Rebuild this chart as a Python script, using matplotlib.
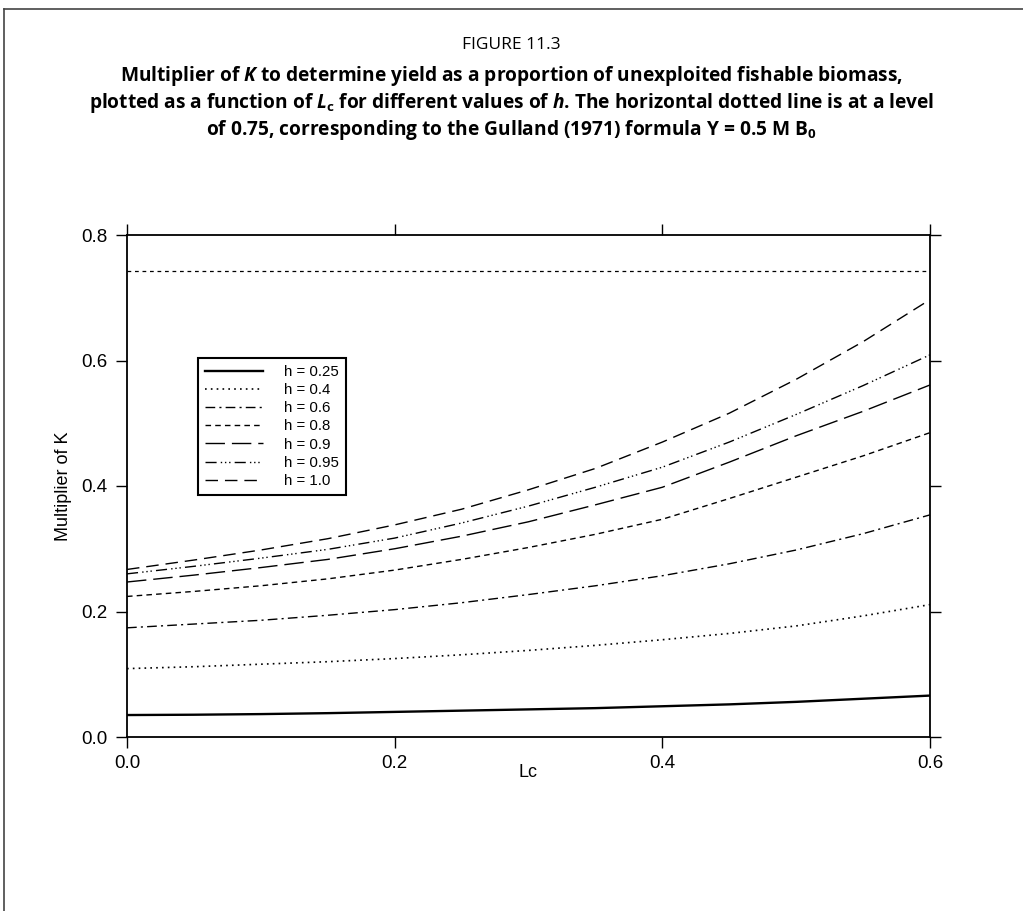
import matplotlib
matplotlib.use("Agg")
import matplotlib.pyplot as plt
from matplotlib.lines import Line2D

plt.rcParams['mathtext.fontset'] = 'custom'
plt.rcParams['mathtext.rm'] = 'Open Sans:bold'
plt.rcParams['mathtext.it'] = 'Open Sans:italic:bold'
plt.rcParams['mathtext.bf'] = 'Open Sans:bold'

# ---- data ----
lc = [0.00, 0.05, 0.10, 0.15, 0.20, 0.25, 0.30, 0.35, 0.40, 0.45, 0.50, 0.55, 0.60]
h_labels = ["h = 0.25", "h = 0.4", "h = 0.6", "h = 0.8", "h = 0.9", "h = 0.95", "h = 1.0"]
y_h025 = [0.035, 0.0355, 0.0365, 0.038, 0.040, 0.042, 0.044, 0.046, 0.049, 0.052, 0.056, 0.061, 0.066]
y_h04 = [0.109, 0.112, 0.116, 0.120, 0.125, 0.131, 0.138, 0.146, 0.155, 0.165, 0.177, 0.193, 0.211]
y_h06 = [0.174, 0.180, 0.186, 0.194, 0.203, 0.214, 0.227, 0.241, 0.257, 0.276, 0.298, 0.324, 0.354]
y_h08 = [0.224, 0.232, 0.241, 0.252, 0.266, 0.283, 0.302, 0.323, 0.347, 0.380, 0.414, 0.448, 0.485]
y_h09 = [0.247, 0.258, 0.270, 0.283, 0.300, 0.320, 0.343, 0.370, 0.398, 0.438, 0.480, 0.519, 0.561]
y_h095 = [0.260, 0.272, 0.285, 0.299, 0.317, 0.341, 0.368, 0.398, 0.430, 0.470, 0.514, 0.560, 0.609]
y_h10 = [0.267, 0.282, 0.298, 0.316, 0.338, 0.363, 0.394, 0.428, 0.470, 0.516, 0.570, 0.630, 0.697]
gulland_level = 0.743
xticks = [0.0, 0.2, 0.4, 0.6]
yticks = [0.0, 0.2, 0.4, 0.6, 0.8]

series = [y_h025, y_h04, y_h06, y_h08, y_h09, y_h095, y_h10]
styles = [
    dict(linestyle='-', lw=1.7),
    dict(linestyle=(0, (1, 2.5)), lw=1.2),
    dict(linestyle=(0, (7, 3, 1.5, 3)), lw=1.0),
    dict(linestyle=(0, (4, 3)), lw=1.0),
    dict(linestyle=(0, (14, 5)), lw=1.0),
    dict(linestyle=(0, (8, 3, 1, 2, 1, 2, 1, 3)), lw=1.0),
    dict(linestyle=(0, (9, 5)), lw=1.0),
]

fig = plt.figure(figsize=(10.23, 9.11), dpi=100)
fig.patch.set_facecolor('white')

# page frame
fig.add_artist(Line2D([4 / 1023, 1.0], [1 - 9 / 911, 1 - 9 / 911], transform=fig.transFigure,
                      color='#444444', lw=1.2))
fig.add_artist(Line2D([4 / 1023, 4 / 1023], [1 - 9 / 911, 0.0], transform=fig.transFigure,
                      color='#444444', lw=1.2))

# title block
tfont = 'Open Sans'
fig.text(0.5, 1 - 45 / 911, "FIGURE 11.3", ha='center', va='center', fontsize=12.5,
         family=tfont)
fig.text(0.5, 1 - 76 / 911,
         r"Multiplier of $\mathit{K}$ to determine yield as a proportion of unexploited fishable biomass,",
         ha='center', va='center', fontsize=13.8, family=tfont, weight='bold')
fig.text(0.5, 1 - 103 / 911,
         r"plotted as a function of $\mathit{L}_{\mathrm{c}}$ for different values of $\mathit{h}$. The horizontal dotted line is at a level",
         ha='center', va='center', fontsize=13.8, family=tfont, weight='bold')
fig.text(0.5, 1 - 130 / 911,
         r"of 0.75, corresponding to the Gulland (1971) formula Y = 0.5 M B$_{0}$",
         ha='center', va='center', fontsize=13.8, family=tfont, weight='bold')

ax = fig.add_axes([127 / 1023, 1 - 737 / 911, (930 - 127) / 1023, (737 - 235) / 911])

for ys, st, lab in zip(series, styles, h_labels):
    ax.plot(lc, ys, color='black', label=lab, **st)

ax.plot([lc[0], lc[-1]], [gulland_level, gulland_level], color='black', lw=0.9,
        linestyle=(0, (3, 3)))

ax.set_xlim(0, 0.6)
ax.set_ylim(0, 0.8)
ax.set_xticks(xticks)
ax.set_yticks(yticks)
ax.set_xticklabels([f"{v:.1f}" for v in xticks])
ax.set_yticklabels([f"{v:.1f}" for v in yticks])
ax.tick_params(direction='out', length=8, width=1.0, top=True, right=True,
               labeltop=False, labelright=False, labelsize=13.5, pad=5, colors='black')
ax.tick_params(axis='y', pad=6)
for sp in ax.spines.values():
    sp.set_linewidth(1.3)
    sp.set_color('black')
for lbl in ax.get_xticklabels() + ax.get_yticklabels():
    lbl.set_family('Liberation Sans')

ax.set_xlabel("Lc", fontsize=13, family='Liberation Sans', labelpad=-6)
ax.set_ylabel("Multiplier of K", fontsize=13, family='Liberation Sans', labelpad=7)

leg = ax.legend(loc='upper left', bbox_to_anchor=((198 - 127) / 803, (737 - 358) / 502),
                prop={'family': 'Liberation Sans', 'size': 10.8},
                handlelength=3.9, handletextpad=1.4, labelspacing=0.28,
                borderpad=0.45, borderaxespad=0, fancybox=False, framealpha=1,
                edgecolor='black')
leg.get_frame().set_linewidth(1.5)

fig.savefig("out.png", dpi=100)
